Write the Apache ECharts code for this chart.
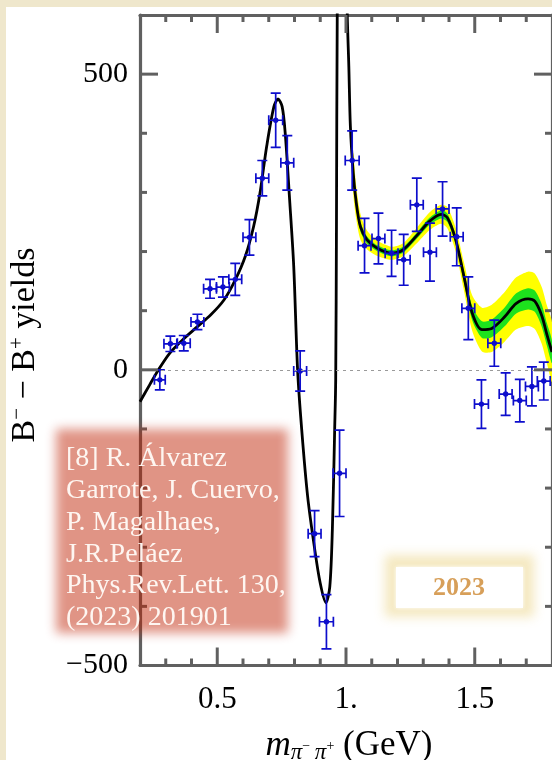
<!DOCTYPE html>
<html>
<head>
<meta charset="utf-8">
<script src="https://cdn.jsdelivr.net/npm/echarts@6/dist/echarts.min.js"></script>
<style>
  html, body { margin: 0; padding: 0; background: #ffffff; }
  #chart { width: 552px; height: 760px; }
</style>
</head>
<body>
<div id="chart"></div>
<script>
// Measured B- minus B+ yields in bins of m(pi- pi+), with errors
const binMass = [0.277, 0.318, 0.370, 0.423, 0.472, 0.522, 0.570, 0.625, 0.675, 0.727, 0.772,
  0.822, 0.878, 0.924, 0.975, 1.024, 1.072, 1.126, 1.177, 1.224, 1.275, 1.326, 1.375, 1.430,
  1.475, 1.526, 1.576, 1.620, 1.675, 1.722, 1.768];
const binYield = [-17, 44, 45, 81, 137, 140, 153, 224, 324, 422, 350,
  -2, -277, -426, -175, 354, 210, 222, 197, 186, 279, 199, 272, 225,
  104, -58, 45, -41, -52, -28, -19];
const binMassErr = [0.021, 0.025, 0.025, 0.025, 0.025, 0.025, 0.025, 0.025, 0.025, 0.027, 0.025,
  0.025, 0.025, 0.027, 0.025, 0.027, 0.025, 0.025, 0.025, 0.025, 0.025, 0.025, 0.025, 0.025,
  0.025, 0.027, 0.025, 0.025, 0.025, 0.025, 0.025];
const binYieldErr = [17, 13, 13, 13, 16, 17, 27, 30, 30, 46, 46,
  34, 39, 46, 73, 50, 46, 43, 39, 43, 45, 49, 46, 49,
  53, 41, 39, 36, 36, 33, 32];

// Fitted amplitude curve
const fitMass = [0.200, 0.238, 0.270, 0.315, 0.366, 0.423, 0.475, 0.526, 0.570, 0.609, 0.641,
  0.666, 0.692, 0.720, 0.736, 0.752, 0.764, 0.781, 0.797, 0.812, 0.828, 0.851, 0.877, 0.900,
  0.922, 0.937, 0.947, 0.956, 0.960, 0.963, 0.966, 0.975, 0.985, 0.995, 1.005, 1.011, 1.017,
  1.028, 1.040, 1.056, 1.081, 1.120, 1.177, 1.222, 1.273, 1.324, 1.369, 1.394, 1.426, 1.458,
  1.490, 1.528, 1.566, 1.617, 1.660, 1.707, 1.733, 1.760, 1.780, 1.800];
const fitYield = [-54, -25, -1, 28, 51, 73, 93, 118, 152, 192, 242,
  299, 378, 445, 458, 445, 400, 288, 175, 0, -101, -214, -299, -361,
  -394, -367, -271, -101, -17, 250, 600, 950, 1050, 900, 600, 513, 412,
  333, 282, 242, 220, 206, 197, 203, 226, 251, 263, 257, 220, 158,
  96, 68, 70, 90, 112, 120, 116, 92, 60, 30];

// Uncertainty band of the fit (1 sigma and 2 sigma half widths)
const bandMass = [1.028, 1.040, 1.056, 1.081, 1.120, 1.177, 1.222, 1.273, 1.324, 1.369, 1.394,
  1.426, 1.458, 1.490, 1.528, 1.566, 1.617, 1.660, 1.707, 1.733, 1.760, 1.780, 1.800];
const bandCenter = [333, 282, 242, 220, 206, 197, 203, 226, 251, 263, 257,
  220, 158, 96, 68, 70, 90, 112, 120, 116, 92, 60, 30];
const band1Sigma = [12, 10, 8, 6, 5, 5, 5, 5, 6, 7, 7, 8, 10, 12, 14, 15, 16, 17, 18, 18, 19, 19, 19];
const band2Sigma = [34, 28, 22, 16, 13, 11, 11, 13, 15, 16, 18, 20, 24, 30, 37, 40, 42, 44, 46, 47, 48, 49, 50];

// Axis ticks
const xMajorTicks = [0.5, 1.0, 1.5];
const xTickLabels = ['0.5', '1.', '1.5'];
const xMinorTicks = [0.3, 0.4, 0.6, 0.7, 0.8, 0.9, 1.1, 1.2, 1.3, 1.4, 1.6, 1.7];
const yMajorTicks = [-500, 0, 500];
const yTickLabels = ['\u2212500', '0', '500'];
const yMinorTicks = [-400, -300, -200, -100, 100, 200, 300, 400];

// Reference note
const citationLines = [
  '[8] R. \u00c1lvarez',
  'Garrote, J. Cuervo,',
  'P. Magalhaes,',
  'J.R.Pel\u00e1ez',
  'Phys.Rev.Lett. 130,',
  '(2023) 201901'
];
const yearTag = '2023';

const X_MIN = 0.2, X_MAX = 1.8, Y_MIN = -500, Y_MAX = 600;
const MAJOR_LEN = 18, MINOR_LEN = 7, TICK_W = 3;
const frameColor = '#606060';
const pointColor = '#0d0dcc';
const serifFamily = 'Liberation Serif, Times New Roman, DejaVu Serif, serif';
const serifFont = '"Liberation Serif", "Times New Roman", "DejaVu Serif", serif';

function labelFor(values, labels) {
  return function (v) {
    const i = values.findIndex(t => Math.abs(t - v) < 1e-9);
    return i < 0 ? '' : labels[i];
  };
}

function frameAxis(position, isX) {
  return {
    type: 'value', position: position,
    min: isX ? X_MIN : Y_MIN, max: isX ? X_MAX : Y_MAX,
    axisLine: { show: true, onZero: false, lineStyle: { color: frameColor, width: 3.2 } },
    axisTick: { show: false },
    axisLabel: { show: false },
    splitLine: { show: false }
  };
}

const xBottom = frameAxis('bottom', true);
xBottom.axisLabel = {
  show: true, customValues: xMajorTicks, formatter: labelFor(xMajorTicks, xTickLabels),
  fontFamily: serifFamily, fontSize: 31, color: '#000', margin: 19
};
const yLeft = frameAxis('left', false);
yLeft.axisLabel = {
  show: true, customValues: yMajorTicks, formatter: labelFor(yMajorTicks, yTickLabels),
  fontFamily: serifFamily, fontSize: 30, color: '#000', margin: 12
};

const pointRows = binMass.map((m, i) => [m, binYield[i], binMassErr[i], binYieldErr[i]]);
const bandRows = bandMass.map((m, i) => [m, bandCenter[i], band1Sigma[i], band2Sigma[i]]);
const fitRows = fitMass.map((m, i) => [m, fitYield[i]]);

function bandRenderer(sigmaDim, fillColor) {
  return function (params, api) {
    if (params.dataIndex !== 0) return null;
    const upper = [], lower = [];
    for (let i = 0; i < bandRows.length; i++) {
      const r = bandRows[i];
      const s = r[sigmaDim];
      upper.push(api.coord([r[0], r[1] + s]));
      lower.push(api.coord([r[0], r[1] - s]));
    }
    const pts = upper.concat(lower.reverse());
    return {
      type: 'polygon',
      shape: { points: pts, smooth: 0.25 },
      style: { fill: fillColor, stroke: null }
    };
  };
}

function errorBarRenderer(params, api) {
  const x = api.value(0), y = api.value(1), ex = api.value(2), ey = api.value(3);
  const c = api.coord([x, y]);
  const l = api.coord([x - ex, y]);
  const r = api.coord([x + ex, y]);
  const t = api.coord([x, y + ey]);
  const b = api.coord([x, y - ey]);
  const cap = 5;
  const seg = (x1, y1, x2, y2) => ({
    type: 'line', shape: { x1: x1, y1: y1, x2: x2, y2: y2 },
    style: { stroke: pointColor, lineWidth: 1.7, fill: null }
  });
  return {
    type: 'group',
    children: [
      seg(l[0], c[1], r[0], c[1]),
      seg(c[0], t[1], c[0], b[1]),
      seg(c[0] - cap, t[1], c[0] + cap, t[1]),
      seg(c[0] - cap, b[1], c[0] + cap, b[1]),
      seg(l[0], c[1] - cap, l[0], c[1] + cap),
      seg(r[0], c[1] - cap, r[0], c[1] + cap),
      { type: 'circle', shape: { cx: c[0], cy: c[1], r: 2.7 }, style: { fill: pointColor, stroke: null } }
    ]
  };
}

// a rectangle drawn only through its blurred shadow, giving soft edges
function softRect(x, y, w, h, color, blur, z) {
  const shift = 3000;
  return {
    type: 'rect', shape: { x: x - shift, y: y, width: w, height: h },
    style: { fill: '#000', shadowBlur: blur, shadowColor: color, shadowOffsetX: shift, shadowOffsetY: 0 },
    z: z, silent: true
  };
}

const chart = echarts.init(document.getElementById('chart'), null, { renderer: 'canvas' });

chart.setOption({
  backgroundColor: '#ffffff',
  animation: false,
  textStyle: { fontFamily: serifFamily },
  grid: { left: 140, top: 15, width: 418, height: 650.5, containLabel: false },
  xAxis: [xBottom, frameAxis('top', true)],
  yAxis: [yLeft, frameAxis('right', false)],
  series: [
    {
      type: 'custom', name: '2 sigma', data: bandRows, encode: { x: 0, y: 1 },
      renderItem: bandRenderer(3, '#ffff00'), clip: true, silent: true, z: 1
    },
    {
      type: 'custom', name: '1 sigma', data: bandRows, encode: { x: 0, y: 1 },
      renderItem: bandRenderer(2, '#1de21d'), clip: true, silent: true, z: 1
    },
    {
      type: 'line', name: 'fit', data: fitRows, showSymbol: false, symbol: 'none',
      smooth: 0.3, clip: true, silent: true, z: 3,
      lineStyle: { color: '#000000', width: 2.8 },
      markLine: {
        silent: true, symbol: ['none', 'none'], label: { show: false },
        lineStyle: { color: '#9a9a9a', width: 1, type: [3, 4] },
        data: [{ yAxis: 0 }]
      }
    },
    {
      type: 'custom', name: 'data', data: pointRows, encode: { x: 0, y: 1 },
      renderItem: errorBarRenderer, clip: true, silent: true, z: 4
    }
  ]
});

// inward frame ticks on all four edges, placed through the grid's own scales
const tickMarks = [];
function tickRect(x, y, w, h) {
  tickMarks.push({
    type: 'rect', z: 30, silent: true,
    shape: { x: x, y: y, width: w, height: h },
    style: { fill: frameColor }
  });
}
function addXTick(v, len) {
  const b = chart.convertToPixel({ gridIndex: 0 }, [v, Y_MIN]);
  const t = chart.convertToPixel({ gridIndex: 0 }, [v, Y_MAX]);
  tickRect(b[0] - TICK_W / 2, b[1] - len, TICK_W, len);
  tickRect(t[0] - TICK_W / 2, t[1], TICK_W, len);
}
function addYTick(v, len) {
  const l = chart.convertToPixel({ gridIndex: 0 }, [X_MIN, v]);
  const r = chart.convertToPixel({ gridIndex: 0 }, [X_MAX, v]);
  tickRect(l[0], l[1] - TICK_W / 2, len, TICK_W);
  tickRect(r[0] - len, r[1] - TICK_W / 2, len, TICK_W);
}
xMajorTicks.forEach(v => addXTick(v, MAJOR_LEN));
xMinorTicks.forEach(v => addXTick(v, MINOR_LEN));
yMajorTicks.forEach(v => addYTick(v, MAJOR_LEN));
yMinorTicks.forEach(v => addYTick(v, MINOR_LEN));

chart.setOption({
  graphic: tickMarks.concat([
    // cream page margin
    { type: 'rect', shape: { x: 0, y: 0, width: 552, height: 7 }, style: { fill: '#efe7cc' }, z: 50 },
    { type: 'rect', shape: { x: 0, y: 0, width: 6, height: 760 }, style: { fill: '#efe7cc' }, z: 50 },
    // axis titles
    {
      type: 'text', x: 25, y: 345, rotation: Math.PI / 2, z: 20,
      style: {
        text: '{b|B}{p|\u2212}{b| \u2212 B}{p|+}{b| yields}',
        align: 'center', verticalAlign: 'middle',
        rich: {
          b: { font: '34px ' + serifFont, fill: '#000', lineHeight: 36 },
          p: { font: '21px ' + serifFont, fill: '#000', lineHeight: 19, verticalAlign: 'top' }
        }
      }
    },
    {
      type: 'text', x: 349, y: 746, z: 20,
      style: {
        text: '{m|m}{s|\u03c0}{ss|\u2212}{s|\u2009\u03c0}{ss|+}{n| (GeV)}',
        align: 'center', verticalAlign: 'middle',
        rich: {
          m: { font: 'italic 35px ' + serifFont, fill: '#000', lineHeight: 36 },
          s: { font: 'italic 23px ' + serifFont, fill: '#000', lineHeight: 14, verticalAlign: 'bottom' },
          ss: { font: '14px ' + serifFont, fill: '#000', lineHeight: 14, verticalAlign: 'middle' },
          n: { font: '35px ' + serifFont, fill: '#000', lineHeight: 36 }
        }
      }
    },
    // reference note box
    softRect(56, 429, 232, 204, 'rgba(190,32,0,0.48)', 10, 100),
    {
      type: 'text', x: 66, y: 443, z: 101,
      style: {
        text: citationLines.join('\n'), font: '28px ' + serifFont, fill: 'rgba(255,250,246,0.96)',
        lineHeight: 31.8, align: 'left', verticalAlign: 'top'
      }
    },
    // year tag
    softRect(385, 555, 149, 62, 'rgba(242,228,178,0.8)', 10, 100),
    {
      type: 'rect', shape: { x: 396, y: 567, width: 127, height: 41 },
      style: { fill: '#ffffff', shadowBlur: 4, shadowColor: '#ffffff' },
      z: 101
    },
    {
      type: 'text', x: 459, y: 588, z: 102,
      style: {
        text: yearTag, font: 'bold 26px ' + serifFont, fill: '#d79f59',
        align: 'center', verticalAlign: 'middle'
      }
    }
  ])
});
</script>
</body>
</html>
